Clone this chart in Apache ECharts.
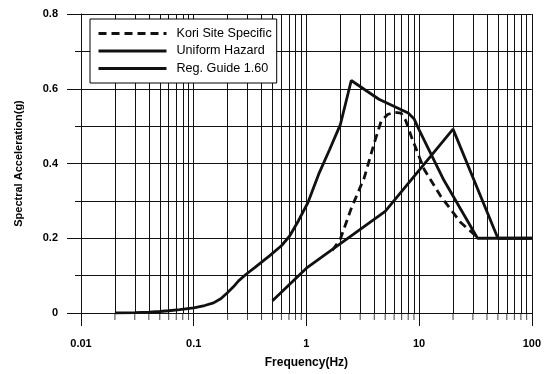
<!DOCTYPE html>
<html>
<head>
<meta charset="utf-8">
<script src="https://cdn.jsdelivr.net/npm/echarts@6/dist/echarts.min.js"></script>
<style>
  html, body { margin: 0; padding: 0; background: #fff; }
  #chart { width: 544px; height: 374px; }
</style>
</head>
<body>
<div id="chart"></div>
<script>
// spectra: [frequency Hz, acceleration g]
const koriSiteSpecific = [
  [1.7, 0.168], [2, 0.198], [2.5, 0.28], [3.26, 0.362], [4, 0.455], [4.6, 0.513],
  [5.25, 0.531], [6, 0.537], [6.9, 0.535], [7.6, 0.515], [8.7, 0.465], [11.1, 0.384],
  [15.5, 0.313], [23.4, 0.242], [30.6, 0.211], [33, 0.2]
];
const uniformHazard = [
  [0.02, 0.0], [0.03, 0.001], [0.04, 0.002], [0.05, 0.004], [0.06, 0.006], [0.075, 0.009],
  [0.1, 0.014], [0.125, 0.02], [0.15, 0.027], [0.175, 0.039], [0.2, 0.055], [0.225, 0.07],
  [0.25, 0.086], [0.29, 0.103], [0.35, 0.122], [0.47, 0.153], [0.6, 0.18], [0.71, 0.206],
  [0.85, 0.247], [1.03, 0.295], [1.3, 0.375], [1.6, 0.436], [2, 0.504], [2.5, 0.622],
  [4.4, 0.572], [8, 0.535], [9, 0.52], [10, 0.49], [16.6, 0.355], [33, 0.2], [100, 0.2]
];
const regGuide160 = [
  [0.5, 0.033], [1, 0.12], [5, 0.272], [20, 0.492], [50, 0.2], [100, 0.2]
];
const seriesNames = ['Kori Site Specific', 'Uniform Hazard', 'Reg. Guide 1.60'];
const decades = [0.01, 0.1, 1, 10];
const minorSteps = [2, 3, 4, 5, 6, 7, 8, 9];

const minorFreqs = [];
decades.forEach(d => minorSteps.forEach(m => minorFreqs.push(+(d * m).toPrecision(3))));

const ink = '#111';
const font = 'Liberation Sans';

const chart = echarts.init(document.getElementById('chart'), null, { renderer: 'canvas' });
chart.setOption({
  animation: false,
  backgroundColor: '#fff',
  grid: { left: 81, right: 11, top: 14, bottom: 60 },
  legend: {
    data: seriesNames,
    orient: 'vertical',
    z: 20,
    left: 90,
    top: 19,
    itemWidth: 68,
    itemHeight: 14,
    itemGap: 4.5,
    padding: [8, 5, 8, 7],
    backgroundColor: '#fff',
    borderColor: '#000',
    borderWidth: 1,
    itemStyle: { opacity: 0 },
    lineStyle: { width: 3 },
    textStyle: { fontSize: 12.6, color: '#000', fontFamily: font, padding: [0, 0, 0, 5] }
  },
  xAxis: {
    type: 'log',
    logBase: 10,
    min: 0.01,
    max: 100,
    name: 'Frequency(Hz)',
    nameLocation: 'middle',
    nameGap: 44,
    nameTextStyle: { fontSize: 12, fontWeight: 'bold', color: '#000', fontFamily: font },
    axisLine: { show: true, lineStyle: { color: ink, width: 1 } },
    axisTick: { show: true, length: 13, lineStyle: { color: ink } },
    axisLabel: {
      margin: 25, fontSize: 11, fontWeight: 'bold', color: '#000', fontFamily: font,
      formatter: v => String(+v.toPrecision(3))
    },
    splitLine: { show: true, lineStyle: { color: ink, width: 1 } }
  },
  yAxis: {
    type: 'value',
    min: 0,
    max: 0.8,
    interval: 0.2,
    name: 'Spectral Acceleration(g)',
    nameLocation: 'middle',
    nameGap: 57,
    nameTextStyle: { fontSize: 11, fontWeight: 'bold', color: '#000', fontFamily: font },
    axisLine: { show: true, lineStyle: { color: ink, width: 1 } },
    axisTick: { show: true, length: 14, lineStyle: { color: ink } },
    minorTick: { show: true, splitNumber: 2, length: 6, lineStyle: { color: ink } },
    minorSplitLine: { show: true, lineStyle: { color: ink, width: 1 } },
    axisLabel: {
      margin: 23, fontSize: 11, fontWeight: 'bold', color: '#000', fontFamily: font,
      formatter: v => (v === 0 ? '0' : v.toFixed(1))
    },
    splitLine: { show: true, lineStyle: { color: ink, width: 1 } }
  },
  series: [
    {
      name: seriesNames[0],
      type: 'line',
      data: koriSiteSpecific,
      symbol: 'none',
      z: 5,
      lineStyle: { color: ink, width: 2.8, type: [8, 5] },
      itemStyle: { color: ink }
    },
    {
      name: seriesNames[1],
      type: 'line',
      data: uniformHazard,
      symbol: 'none',
      z: 5,
      lineStyle: { color: ink, width: 2.8 },
      itemStyle: { color: ink }
    },
    {
      name: seriesNames[2],
      type: 'line',
      data: regGuide160,
      symbol: 'none',
      z: 5,
      lineStyle: { color: ink, width: 2.8 },
      itemStyle: { color: ink }
    },
    {
      // minor log grid: vertical lines plus short ticks under the axis
      name: 'minorGrid',
      type: 'scatter',
      silent: true,
      clip: false,
      data: minorFreqs.map(f => [f, 0]),
      symbol: 'rect',
      symbolSize: [1, 7],
      symbolOffset: [0, 3.5],
      itemStyle: { color: ink },
      z: 1,
      markLine: {
        z: 1,
        silent: true,
        symbol: ['none', 'none'],
        label: { show: false },
        lineStyle: { color: ink, width: 1, type: 'solid' },
        emphasis: { disabled: true },
        data: minorFreqs.map(f => ({ xAxis: f }))
      }
    }
  ]
});
</script>
</body>
</html>
